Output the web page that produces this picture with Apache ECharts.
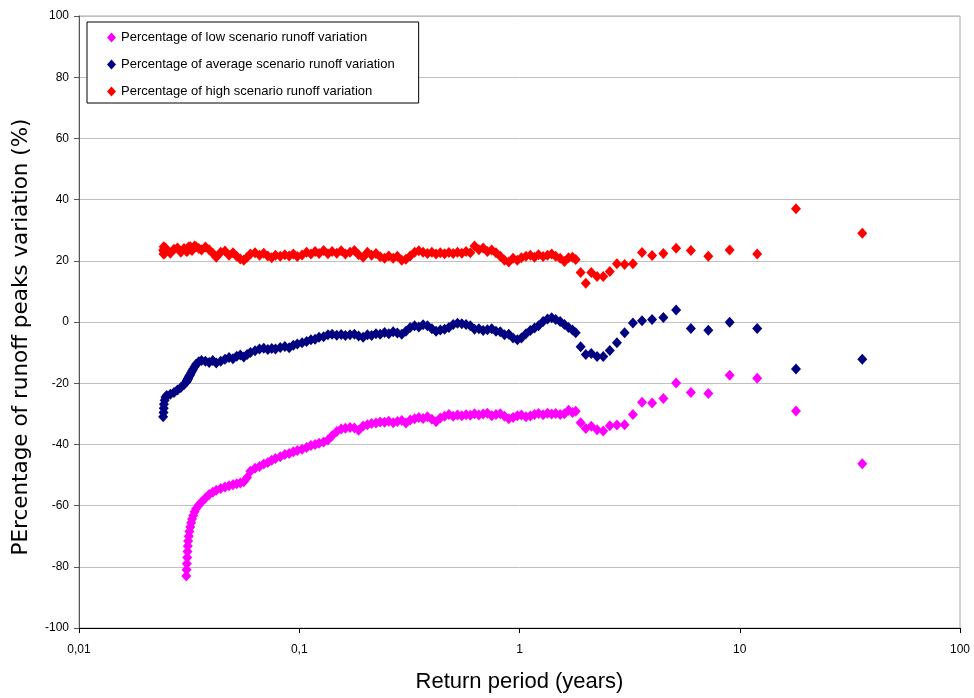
<!DOCTYPE html>
<html>
<head>
<meta charset="utf-8">
<script src="https://cdn.jsdelivr.net/npm/echarts@6/dist/echarts.min.js"></script>
<style>html,body{margin:0;padding:0;background:#fff}#c{width:974px;height:698px}</style>
</head>
<body>
<div id="c"></div>
<script>
const seriesNames = [
  'Percentage of low scenario runoff variation',
  'Percentage of average scenario runoff variation',
  'Percentage of high scenario runoff variation'
];
const xTickValues = [0.01, 0.1, 1, 10, 100];
const xTickLabels = ['0,01', '0,1', '1', '10', '100'];

// Return period (years) of each point
const returnPeriods = [
  0.0241, 0.0242, 0.02425, 0.0243, 0.0245, 0.0247,
  0.025, 0.026, 0.027, 0.028, 0.029, 0.030,
  0.0307, 0.0308, 0.0309, 0.0310, 0.0311, 0.0312, 0.0313,
  0.0315, 0.0317, 0.0320, 0.0323, 0.0326, 0.0330, 0.0335,
  0.034, 0.035, 0.036, 0.0375,
  0.039, 0.0405, 0.042, 0.044, 0.046, 0.048, 0.050, 0.052, 0.054, 0.056, 0.058, 0.060,
  0.063, 0.066, 0.069, 0.072, 0.075, 0.078,
  0.082, 0.086, 0.090, 0.094, 0.098,
  0.103, 0.108, 0.113, 0.118, 0.123,
  0.129, 0.135, 0.141, 0.148, 0.155, 0.162, 0.170, 0.178, 0.186, 0.195,
  0.204, 0.213, 0.223, 0.233, 0.244, 0.255, 0.267, 0.279, 0.292, 0.305,
  0.319, 0.334, 0.349, 0.365, 0.382, 0.400, 0.418, 0.437, 0.457, 0.478,
  0.500, 0.523, 0.547, 0.572, 0.598, 0.625, 0.654, 0.684, 0.715, 0.748,
  0.782, 0.818, 0.855, 0.894, 0.935, 0.978,
  1.02, 1.07, 1.12, 1.17, 1.22, 1.28, 1.34, 1.40, 1.46, 1.53,
  1.60, 1.67, 1.74,
  1.8, 1.895, 2.0, 2.118, 2.25, 2.4, 2.571, 2.769, 3.0, 3.273,
  3.6, 4.0, 4.5, 5.143, 6.0, 7.2, 9.0, 12.0, 18.0, 36.0
];

const lowValues = [
  null, null, null, null, null, null,
  null, null, null, null, null, null,
  -83.0, -81.0, -79.0, -77.0, -75.0, -73.2, -71.6,
  -70.0, -68.5, -67.0, -65.6, -64.4, -63.2, -62.0,
  -61.0, -59.8, -58.8, -57.5,
  -56.4, -55.6, -55.0, -54.4, -53.9, -53.5, -53.2, -52.9, -52.6, -52.2, -50.8, -48.8,
  -47.8, -47.2, -46.4, -45.9, -45.2, -44.6,
  -44.0, -43.3, -43.0, -42.4, -42.0,
  -41.6, -41.0, -40.4, -40.0, -39.6,
  -39.2, -38.6, -37.2, -35.8, -35.0, -34.7, -34.5, -34.6, -35.4, -34.0,
  -33.6, -33.2, -33.0, -32.7, -32.8, -32.4, -32.9, -32.5, -32.2, -33.0,
  -32.0, -31.6, -31.2, -31.5, -31.0, -31.8, -32.6, -31.4, -30.8, -30.2,
  -30.8, -30.4, -30.6, -30.3, -30.5, -30.0, -30.4, -30.1, -29.8, -30.6,
  -30.2, -30.0, -30.8, -31.6, -31.2, -30.6,
  -30.4, -31.0, -30.7, -30.2, -29.9, -30.3, -29.8, -30.1, -29.9, -30.2,
  -30.0, -28.8, -29.6,
  -29.2, -32.9, -34.8, -34.1, -35.2, -35.6, -33.9, -33.7, -33.6, -30.2,
  -26.2, -26.5, -25.0, -19.9, -23.0, -23.4, -17.4, -18.4, -29.1, -46.3
];

const avgValues = [
  -31.0, -29.6, -28.2, -26.9, -25.6, -24.6,
  -24.0, -23.6, -23.0, -22.2, -21.4, -20.4,
  -19.6, -19.4, -19.2, -19.0, -18.8, -18.6, -18.4,
  -18.0, -17.6, -17.2, -16.6, -16.0, -15.4, -14.6,
  -13.8, -13.0, -12.6, -12.8,
  -13.2, -12.6, -13.4, -12.8, -12.2, -11.6, -12.0, -11.2, -10.8, -11.4, -10.6, -10.0,
  -9.4, -8.8, -8.6, -9.0, -8.7, -8.8,
  -8.3, -8.0, -8.4, -7.6, -7.2,
  -6.8, -6.4, -5.8, -5.6, -5.0,
  -4.8, -4.2, -4.0, -4.3, -4.1, -4.4, -4.2, -4.0, -4.6, -5.0,
  -4.2, -4.4, -3.8, -4.0, -3.4, -3.8, -3.2, -3.6, -4.0, -3.0,
  -1.8, -1.2, -1.6, -0.9, -1.2, -2.2, -3.0, -2.6, -2.4, -1.8,
  -0.8, -0.4, -0.6, -0.8, -1.2, -2.4, -2.2, -2.8, -2.5, -2.2,
  -3.0, -3.2, -4.2, -4.0, -5.2, -5.8,
  -5.2, -3.8, -2.8, -2.0, -1.2, 0.2, 1.0, 1.4, 0.8, 0.2,
  -0.8, -1.8, -2.6,
  -3.5, -8.1, -10.6, -10.3, -11.3, -11.3, -9.3, -6.8, -3.5, -0.3,
  0.4, 0.8, 1.5, 3.9, -2.1, -2.7, -0.1, -2.1, -15.4, -12.2
];

const highValues = [
  23.5, 22.2, 24.6, 23.0, 22.4, 24.2,
  23.6, 22.5, 23.8, 24.2, 22.8, 24.0,
  23.2, 23.5, 23.0, 23.8, 23.4, 24.2, 23.6,
  24.5, 24.0, 24.6, 23.8, 23.4, 24.2, 24.8,
  24.6, 24.0, 23.5, 24.5,
  23.6, 22.5, 21.2, 22.8, 23.2, 21.8, 22.6, 21.5, 20.6, 20.2, 21.2, 22.2,
  22.6, 21.8, 22.5, 21.6, 21.0, 21.8,
  21.5, 22.0, 21.6, 22.2, 21.4,
  21.9, 22.8, 22.2, 23.0, 22.4,
  23.4, 22.3, 23.0, 22.5, 23.3, 22.2, 22.8, 23.4, 22.0, 21.2,
  22.8, 21.8, 22.4, 21.3, 20.8, 21.6, 20.8, 21.5, 20.2, 20.5,
  21.6, 22.8, 23.3, 22.8, 22.4, 22.8, 22.2, 22.6, 22.3, 22.7,
  22.4, 22.8, 22.5, 23.0, 22.6, 24.8, 23.6, 24.2, 23.0, 23.5,
  22.6, 21.5, 20.2, 19.6, 20.8, 20.2,
  21.0, 21.5, 21.8, 21.2, 22.0, 21.4, 21.8, 22.2, 21.5, 20.8,
  19.8, 21.0, 21.2,
  20.4, 16.2, 12.7, 16.2, 14.9, 14.9, 16.5, 19.0, 18.8, 19.0,
  22.7, 21.7, 22.4, 24.1, 23.4, 21.5, 23.5, 22.2, 37.0, 29.0
];

const seriesColors = ['#FF00FF', '#000080', '#FF0000'];

function pairs(vals) {
  const out = [];
  returnPeriods.forEach((t, i) => { if (vals[i] !== null) out.push([t, vals[i]]); });
  return out;
}

const FONT = '"Liberation Sans", Arial, sans-serif';

const chart = echarts.init(document.getElementById('c'), null, {renderer: 'canvas'});
chart.setOption({
  animation: false,
  backgroundColor: '#ffffff',
  grid: {
    left: 79, top: 16, width: 881, height: 612,
    show: true, borderColor: '#a6a6a6', borderWidth: 1, backgroundColor: 'transparent'
  },
  legend: {
    data: seriesNames.map((n, i) => ({name: n, icon: 'diamond', itemStyle: {color: seriesColors[i]}})),
    orient: 'vertical',
    left: 87, top: 22,
    itemWidth: 9, itemHeight: 10, itemGap: 14,
    padding: [9, 24, 5, 20],
    borderColor: '#000', borderWidth: 1, backgroundColor: '#fff',
    textStyle: {fontFamily: FONT, fontSize: 13, color: '#000', lineHeight: 12},
    selectedMode: false
  },
  xAxis: {
    type: 'log', logBase: 10, min: 0.01, max: 100,
    name: 'Return period (years)', nameLocation: 'middle', nameGap: 43,
    nameTextStyle: {fontFamily: FONT, fontSize: 22, color: '#000'},
    axisLine: {show: true, onZero: false, lineStyle: {color: '#000', width: 1}},
    axisTick: {show: true, length: 5, lineStyle: {color: '#000'}},
    minorTick: {show: false},
    splitLine: {show: false},
    axisLabel: {
      fontFamily: FONT, fontSize: 12, color: '#000', margin: 16,
      formatter: v => {
        const i = xTickValues.findIndex(t => Math.abs(Math.log10(t) - Math.log10(v)) < 1e-6);
        return i >= 0 ? xTickLabels[i] : '';
      }
    }
  },
  yAxis: {
    type: 'value', min: -100, max: 100, interval: 20,
    name: 'PErcentage of runoff peaks variation (%)', nameLocation: 'middle', nameGap: 47,
    nameTextStyle: {fontFamily: '"DejaVu Sans", sans-serif', fontSize: 21.5, color: '#000', padding: [0, 30, 0, 0]},
    axisLine: {show: true, onZero: false, lineStyle: {color: '#555', width: 1}},
    axisTick: {show: true, length: 5, lineStyle: {color: '#555'}},
    splitLine: {show: true, lineStyle: {color: '#c0c0c0', width: 1}},
    axisLabel: {fontFamily: FONT, fontSize: 12, color: '#000', margin: 10}
  },
  series: [lowValues, avgValues, highValues].map((vals, i) => ({
    name: seriesNames[i],
    type: 'scatter',
    symbol: 'diamond',
    symbolSize: [10, 11],
    itemStyle: {color: seriesColors[i], opacity: 1},
    data: pairs(vals),
    z: 2 + i
  }))
});
</script>
</body>
</html>
